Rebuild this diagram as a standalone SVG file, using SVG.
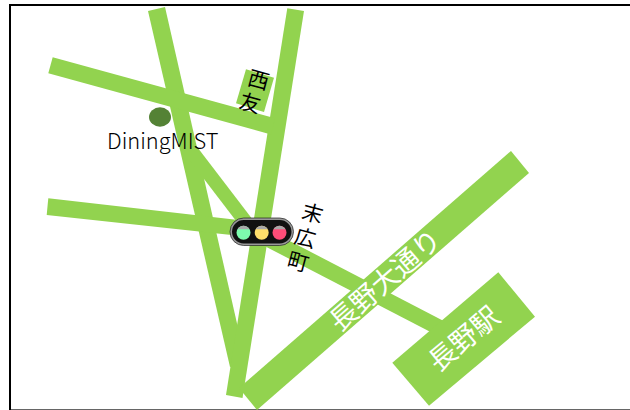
<svg xmlns="http://www.w3.org/2000/svg" width="630" height="410" viewBox="0 0 630 410">
<style>
.fill{fill:#92d34f}
text{font-family:"Noto Sans CJK JP","Noto Sans",sans-serif;font-weight:400}
.w{fill:#fff;font-size:27.500px;text-anchor:middle}
.k{fill:#000;font-size:21px;text-anchor:middle}
.hood{fill:#a8a8a8}
</style>
<rect id="frame" x="10" y="5" width="640" height="405.400" fill="#fff" stroke="#000" stroke-width="2"/>
<g id="connectors">
<polygon class="fill" points="148,11 165,7 246,363 230,367"/>
<polygon class="fill" points="287.300,8.300 304,11 242.500,398 226,395"/>
<polygon class="fill" points="52.700,57.300 275,118.200 271,134.400 48.300,73.300"/>
<polygon class="fill" points="48.300,198.300 245,220.700 243,236.300 46.700,215"/>
<path fill="none" stroke="#92d34f" stroke-width="14" d="M183 140L248 225"/>
<path fill="none" stroke="#92d34f" stroke-width="16" d="M260 234.600L440 328"/>
<polygon class="fill" points="511,151 529,173 257,410 239,388"/>
</g>
<g id="nishitomo">
<polygon class="fill" points="246,69.300 274,77.700 264,112 236,103.300"/>
<text class="k" transform="translate(258.500,80) rotate(15) translate(0,7.500)">西</text>
<text class="k" transform="translate(250,103.300) rotate(15) translate(0,7.500)">友</text>
</g>
<g id="dining">
<ellipse cx="160" cy="117" rx="11" ry="9.700" fill="#548235"/>
<text x="107" y="149" font-size="21.800" style="font-weight:300" fill="#000">DiningMIST</text>
</g>
<g id="signal">
<rect x="231" y="219" width="61.500" height="25.500" rx="12.700" fill="#111" stroke="#999" stroke-width="2"/>
<rect x="230" y="218" width="63.500" height="27.500" rx="13.700" fill="none" stroke="#222" stroke-width="0.700"/>
<circle cx="243.500" cy="232.700" r="7" fill="#7dfcae"/>
<circle cx="261.700" cy="232.700" r="7" fill="#ffdf6b"/>
<circle cx="279.500" cy="232.700" r="7" fill="#ff4d78"/>
<path class="hood" d="M237.440 229.200A7 7 0 0 1 249.560 229.200ZM255.640 229.200A7 7 0 0 1 267.760 229.200ZM273.440 229.200A7 7 0 0 1 285.560 229.200Z"/>
</g>
<g id="suehirocho">
<text class="k" transform="translate(312.500,213.500) rotate(15) translate(0,7.500)">末</text>
<text class="k" transform="translate(305,238) rotate(15) translate(0,7.500)">広</text>
<text class="k" transform="translate(298,262) rotate(15) translate(0,7.500)">町</text>
</g>
<g id="nagano-odori">
<text class="w" transform="translate(385.500,280.500) rotate(-41) translate(0,9.500)">長野大通り</text>
</g>
<g id="nagano-station">
<polygon class="fill" points="498.300,272.300 535,316.700 429,405.700 392.300,362.700"/>
<text class="w" transform="translate(464,339) rotate(-40) translate(0,9.500)">長野駅</text>
</g>
</svg>
